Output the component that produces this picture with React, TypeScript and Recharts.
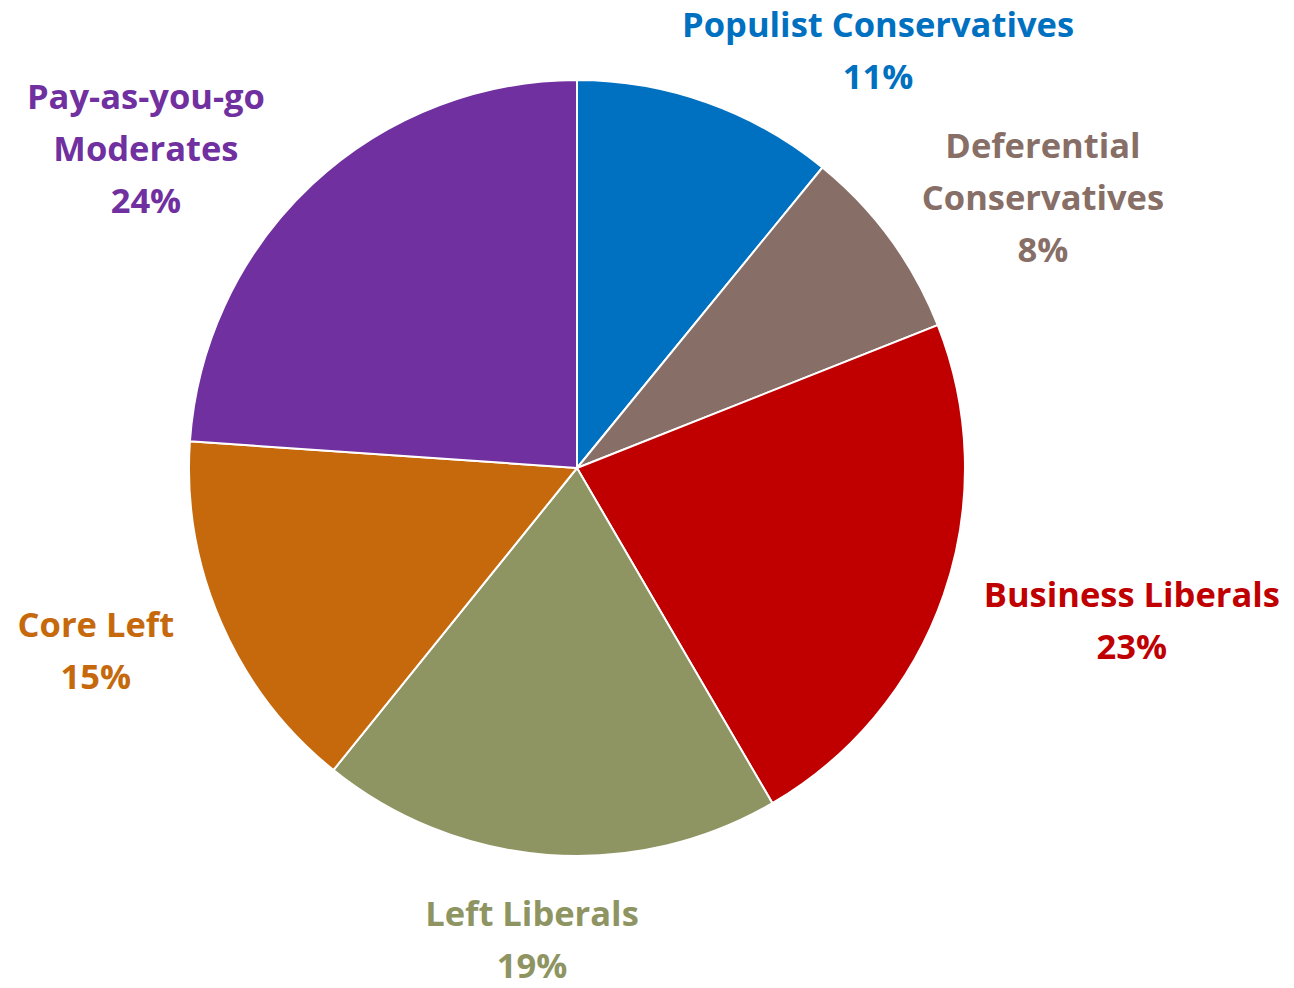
import React from "react";
import { PieChart, Pie, Cell } from "recharts";

const categories: string[] = [
  "Populist Conservatives",
  "Deferential Conservatives",
  "Business Liberals",
  "Left Liberals",
  "Core Left",
  "Pay-as-you-go Moderates",
];
// shares in percent (labels show the rounded value)
const shares: number[] = [10.9, 8.1, 22.6, 19.2, 15.3, 23.9];
const labelLines: string[][] = [
  ["Populist Conservatives"],
  ["Deferential", "Conservatives"],
  ["Business Liberals"],
  ["Left Liberals"],
  ["Core Left"],
  ["Pay-as-you-go", "Moderates"],
];

const palette = ["#0070C0", "#876E66", "#C00000", "#8E9462", "#C5690C", "#7030A0"];
// label block centres, relative to pie centre, in units of the outer radius
const labelOffset: [number, number][] = [
  [0.776, -1.075],
  [1.201, -0.696],
  [1.43, 0.394],
  [-0.116, 1.217],
  [-1.24, 0.472],
  [-1.111, -0.822],
];

const data = categories.map((name, i) => ({ name, value: shares[i] }));

const FONT = "'Open Sans', Lato, sans-serif";
const LINE = 52;
const FS = 34.5;

const renderLabel = (props: any) => {
  const { cx, cy, outerRadius, index } = props;
  const [ox, oy] = labelOffset[index];
  const x = cx + ox * outerRadius;
  const yc = cy + oy * outerRadius;
  const lines = [...labelLines[index], `${Math.round(shares[index])}%`];
  const top = yc - ((lines.length - 1) * LINE) / 2;
  return (
    <text
      key={`lbl-${index}`}
      x={x}
      textAnchor="middle"
      fill={palette[index]}
      fontFamily={FONT}
      fontWeight={700}
      fontSize={FS}
    >
      {lines.map((ln, j) => (
        <tspan key={j} x={x} y={top + j * LINE + 12}>
          {ln}
        </tspan>
      ))}
    </text>
  );
};

export default function App() {
  return (
    <div style={{ position: "absolute", left: 0, top: 0, width: 1294, height: 988, background: "#fff" }}>
      <PieChart width={1294} height={988} margin={{ top: 0, right: 0, bottom: 0, left: 0 }}>
        <Pie
          data={data}
          dataKey="value"
          nameKey="name"
          cx={577}
          cy={468}
          outerRadius={388}
          startAngle={90}
          endAngle={-270}
          stroke="#ffffff"
          strokeWidth={2}
          label={renderLabel}
          labelLine={false}
          isAnimationActive={false}
        >
          {data.map((d, i) => (
            <Cell key={d.name} fill={palette[i]} />
          ))}
        </Pie>
      </PieChart>
    </div>
  );
}
